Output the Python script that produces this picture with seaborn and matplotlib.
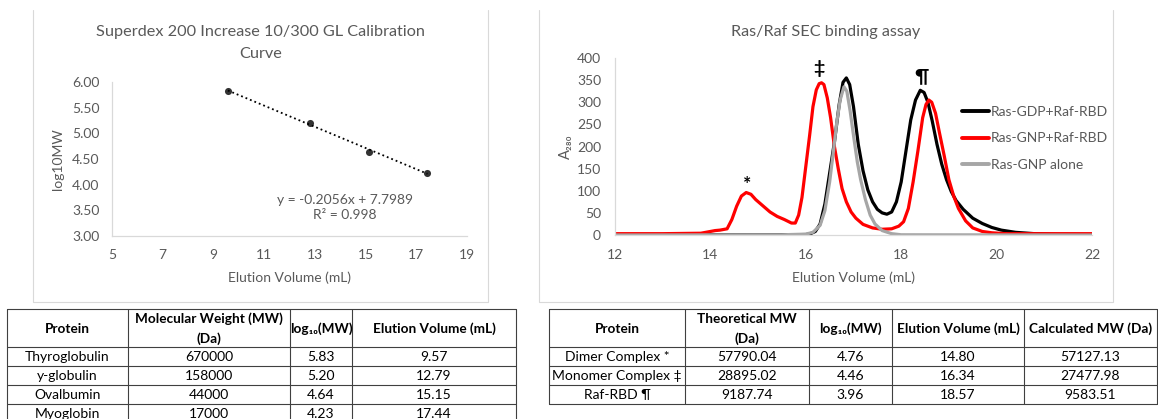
import numpy as np
import pandas as pd
import matplotlib
matplotlib.use("Agg")
import matplotlib.pyplot as plt
import seaborn as sns
from matplotlib.lines import Line2D

# ---------------- data ----------------
cal_proteins = ["Thyroglobulin", "y-globulin", "Ovalbumin", "Myoglobin"]
cal_mw = ["670000", "158000", "44000", "17000"]
cal_log = [5.83, 5.20, 4.64, 4.23]
cal_elution = [9.57, 12.79, 15.15, 17.44]
fit_text = "y = -0.2056x + 7.7989\nR² = 0.998"

left_xticks = [5, 7, 9, 11, 13, 15, 17, 19]
left_yticks = [3.0, 3.5, 4.0, 4.5, 5.0, 5.5, 6.0]
left_ytick_labels = ["3.00", "3.50", "4.00", "4.50", "5.00", "5.50", "6.00"]

right_xticks = [12, 14, 16, 18, 20, 22]
right_yticks = [0, 50, 100, 150, 200, 250, 300, 350, 400]

series_names = ["Ras-GDP+Raf-RBD", "Ras-GNP+Raf-RBD", "Ras-GNP alone"]

gdp_x = [12.0, 15.0, 15.8, 16.0, 16.1, 16.2, 16.3, 16.4, 16.5, 16.6, 16.7, 16.78, 16.85,
         16.92, 17.0, 17.1, 17.2, 17.3, 17.4, 17.5, 17.6, 17.7, 17.8, 17.9, 18.0, 18.1,
         18.2, 18.3, 18.4, 18.48, 18.56, 18.65, 18.75, 18.85, 18.95, 19.05, 19.15, 19.3,
         19.5, 19.7, 19.9, 20.1, 20.4, 20.8, 21.3, 22.0]
gdp_y = [0.5, 0.5, 0.8, 1, 3, 8, 25, 70, 140, 210, 295, 345, 355,
         340, 290, 205, 145, 102, 75, 58, 50, 47, 52, 75, 120, 190,
         260, 305, 327, 322, 300, 258, 205, 160, 125, 98, 78, 58,
         38, 26, 17, 11, 6, 3, 1.5, 1]

gnp_x = [12.0, 13.0, 13.8, 14.0, 14.1, 14.2, 14.35, 14.45, 14.55, 14.65, 14.75, 14.85,
         14.95, 15.1, 15.25, 15.4, 15.55, 15.7, 15.78, 15.85, 15.92, 16.0, 16.08, 16.15,
         16.22, 16.28, 16.33, 16.38, 16.45, 16.52, 16.6, 16.68, 16.76, 16.85, 16.95, 17.05,
         17.2, 17.4, 17.6, 17.8, 17.95, 18.05, 18.15, 18.25, 18.35, 18.45, 18.52, 18.58,
         18.64, 18.72, 18.8, 18.9, 19.0, 19.1, 19.2, 19.35, 19.5, 19.7, 19.9, 20.2, 21.0, 22.0]
gnp_y = [3, 3, 4, 8, 10, 11, 14, 35, 65, 88, 96, 92,
         80, 66, 52, 42, 35, 27, 27, 45, 85, 155, 225, 290,
         328, 342, 344, 340, 310, 265, 200, 150, 105, 75, 52, 38,
         24, 16, 13, 14, 20, 30, 60, 120, 190, 265, 295, 305,
         300, 275, 232, 180, 125, 88, 60, 32, 16, 8, 5, 3, 3, 3]

alone_x = [12.0, 15.5, 16.0, 16.15, 16.3, 16.4, 16.5, 16.58, 16.65, 16.72, 16.8, 16.86,
           16.93, 17.0, 17.08, 17.15, 17.25, 17.35, 17.45, 17.6, 17.8, 18.0, 22.0]
alone_y = [0, 0.5, 2, 6, 22, 55, 120, 190, 255, 305, 335, 325,
           280, 225, 165, 125, 80, 45, 25, 10, 3, 0.5, 0]

peak_marks = ["*", "‡", "¶"]
peak_x = [14.78, 16.27, 18.42]
peak_y = [115, 377, 357]

t2_proteins = ["Dimer Complex *", "Monomer Complex ‡", "Raf-RBD ¶"]
t2_mw = ["57790.04", "28895.02", "9187.74"]
t2_log = ["4.76", "4.46", "3.96"]
t2_elution = ["14.80", "16.34", "18.57"]
t2_calc = ["57127.13", "27477.98", "9583.51"]

t1_headers = ["Protein", "Molecular Weight (MW)\n(Da)", "log₁₀(MW)", "Elution Volume (mL)"]
t2_headers = ["Protein", "Theoretical MW\n(Da)", "log₁₀(MW)", "Elution Volume (mL)", "Calculated MW (Da)"]

# ---------------- style ----------------
sns.set_theme(style="white")
plt.rcParams['font.family'] = ['Lato', 'DejaVu Sans']
GRAY_TXT = "#595959"
AX_LINE = "#d9d9d9"

W, H = 1158, 419
fig = plt.figure(figsize=(W / 100, H / 100), dpi=100)
fig.patch.set_facecolor("white")

def fx(px):
    return px / W

def fy(py):
    return 1 - py / H

# background axes in pixel coordinates (panels, tables)
bg = fig.add_axes([0, 0, 1, 1])
bg.set_xlim(0, W)
bg.set_ylim(H, 0)
bg.axis("off")

for (l, r) in [(33, 488), (539, 1113)]:
    bg.plot([l, l, r, r], [10, 302, 302, 10], color=AX_LINE, lw=0.8)

# ---------------- left chart ----------------
ax1 = fig.add_axes([fx(112), fy(236), (467 - 112) / W, (236 - 82) / H])
ax1.set_facecolor("none")
sns.regplot(x=cal_elution, y=cal_log, ax=ax1, ci=None, truncate=True,
            scatter_kws=dict(color="black", s=26, zorder=3, linewidths=0),
            line_kws=dict(color="black", ls=":", lw=1.3))
ax1.set_xlim(5, 19)
ax1.set_ylim(3, 6)
ax1.set_xticks(left_xticks)
ax1.set_yticks(left_yticks)
ax1.set_yticklabels(left_ytick_labels)
ax1.tick_params(length=0, pad=9, labelsize=10, colors=GRAY_TXT)
for s in ["top", "right"]:
    ax1.spines[s].set_visible(False)
for s in ["left", "bottom"]:
    ax1.spines[s].set_color(AX_LINE)
    ax1.spines[s].set_linewidth(0.9)
ax1.set_xlabel("Elution Volume (mL)", fontsize=10, color=GRAY_TXT)
ax1.set_ylabel("log10MW", fontsize=10, color=GRAY_TXT)
ax1.xaxis.set_label_coords(0.5, (236 - 278) / 154)
ax1.xaxis.label.set_va("center")
ax1.yaxis.set_label_coords((58 - 112) / 355, 0.5)
ax1.yaxis.label.set_va("center")
ax1.text(14.19, 3.555, fit_text, ha="center", va="center", fontsize=10,
         color=GRAY_TXT, linespacing=1.3)
bg.text(260.5, 43, "Superdex 200 Increase 10/300 GL Calibration\nCurve", ha="center",
        va="center", fontsize=11.7, color=GRAY_TXT, linespacing=1.65)

# ---------------- right chart ----------------
ax2 = fig.add_axes([fx(615), fy(235), 477 / W, 177 / H])
ax2.set_facecolor("none")
df = pd.concat([
    pd.DataFrame({"x": gdp_x, "y": gdp_y, "series": series_names[0]}),
    pd.DataFrame({"x": gnp_x, "y": gnp_y, "series": series_names[1]}),
    pd.DataFrame({"x": alone_x, "y": alone_y, "series": series_names[2]}),
], ignore_index=True)
palette = {series_names[0]: "#000000", series_names[1]: "#ff0000", series_names[2]: "#a6a6a6"}
sns.lineplot(data=df, x="x", y="y", hue="series", hue_order=series_names, palette=palette,
             sort=False, estimator=None, lw=2.3, legend=False, ax=ax2)
for ln in ax2.lines:
    ln.set_solid_joinstyle("round")
ax2.set_xlim(12, 22)
ax2.set_ylim(0, 400)
ax2.set_xticks(right_xticks)
ax2.set_yticks(right_yticks)
ax2.tick_params(length=0, pad=10, labelsize=10, colors=GRAY_TXT)
for s in ["top", "right"]:
    ax2.spines[s].set_visible(False)
for s in ["left", "bottom"]:
    ax2.spines[s].set_color(AX_LINE)
    ax2.spines[s].set_linewidth(0.9)
ax2.set_xlabel("Elution Volume (mL)", fontsize=10, color=GRAY_TXT)
ax2.set_ylabel("A₂₈₀", fontsize=10.5, color=GRAY_TXT)
ax2.xaxis.set_label_coords(0.5, (235 - 278) / 177)
ax2.xaxis.label.set_va("center")
ax2.yaxis.set_label_coords((566 - 615) / 477, 0.5)
ax2.yaxis.label.set_va("center")
for m, px_, py_ in zip(peak_marks, peak_x, peak_y):
    ax2.text(px_, py_, m, ha="center", va="center", fontsize=14, fontweight="bold",
             color="black", clip_on=False)
handles = [Line2D([], [], color=palette[n], lw=2.8) for n in series_names]
leg = ax2.legend(handles, series_names, loc="center left",
                 bbox_to_anchor=(fx(962), fy(138.5)), bbox_transform=fig.transFigure,
                 frameon=False, fontsize=10, handlelength=1.95, handletextpad=0.15,
                 labelspacing=1.05, borderpad=0, borderaxespad=0)
for t in leg.get_texts():
    t.set_color(GRAY_TXT)
bg.text(826, 32, "Ras/Raf SEC binding assay", ha="center", va="center",
        fontsize=11.7, color=GRAY_TXT)

# ---------------- tables ----------------
TBL = "#404040"

def draw_table(cols, headers, rows, top=309, header_h=38, row_h=19):
    n = len(rows)
    bottom = top + header_h + n * row_h
    ys = [top, top + header_h] + [top + header_h + (i + 1) * row_h for i in range(n)]
    for y in ys:
        bg.plot([cols[0], cols[-1]], [y, y], color=TBL, lw=0.8)
    for x in cols:
        bg.plot([x, x], [top, bottom], color=TBL, lw=0.8)
    for j, h in enumerate(headers):
        bg.text((cols[j] + cols[j + 1]) / 2, top + header_h / 2 + 1, h, ha="center",
                va="center", fontsize=9.8, fontweight="bold", color="black", linespacing=1.7)
    for i, row in enumerate(rows):
        yc = top + header_h + (i + 0.5) * row_h
        for j, v in enumerate(row):
            bg.text((cols[j] + cols[j + 1]) / 2, yc, v, ha="center", va="center",
                    fontsize=10, color="black")

t1_rows = [[p, m, f"{l:.2f}", f"{e:.2f}"] for p, m, l, e in
           zip(cal_proteins, cal_mw, cal_log, cal_elution)]
draw_table([7, 128, 290, 352, 516], t1_headers, t1_rows)

t2_rows = [list(r) for r in zip(t2_proteins, t2_mw, t2_log, t2_elution, t2_calc)]
draw_table([549, 685, 809, 892, 1024, 1157], t2_headers, t2_rows)

fig.savefig("out.png", dpi=100, facecolor="white")
